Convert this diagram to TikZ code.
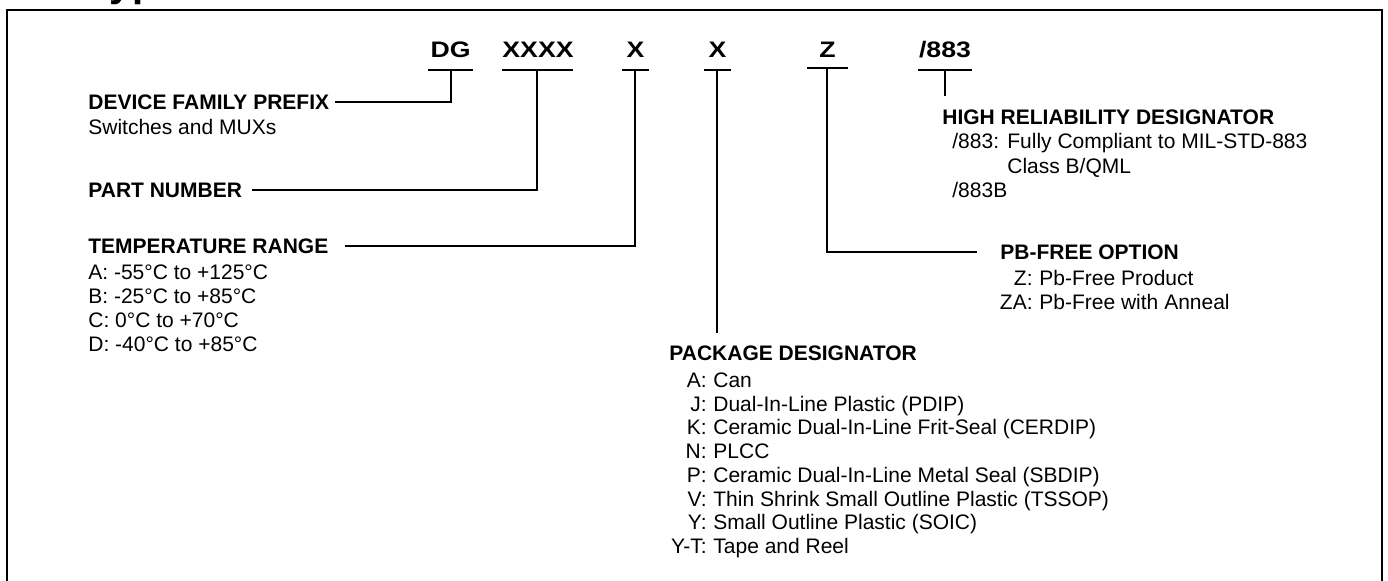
\documentclass[tikz,border=0pt]{standalone}
\usepackage{fontspec}
\setmainfont{Liberation Sans}
\newfontfamily\codefont[FakeStretch=1.19]{Liberation Sans}
\newcommand\bodysz{\fontsize{10.5pt}{12.6pt}\selectfont}
\newcommand\codesz{\fontsize{11.2pt}{13.4pt}\selectfont}
\begin{document}
\begin{tikzpicture}[x=0.5pt,y=-0.5pt,
  hdr/.style={anchor=base west,inner sep=0pt,font=\bodysz\bfseries},
  body/.style={anchor=base west,inner sep=0pt,font=\bodysz},
  lab/.style={anchor=base east,inner sep=0pt,font=\bodysz},
  code/.style={anchor=base,inner sep=0pt,font=\codefont\codesz\bfseries},
  uline/.style={line width=1pt},
  conn/.style={line width=1pt},
  frame/.style={line width=1pt}]
\useasboundingbox (0,0) rectangle (1388,580);
% partially visible heading (cut by page top)
\node[anchor=base west,inner sep=0pt,font=\fontsize{20pt}{24pt}\selectfont\bfseries] (title) at (88,-3.5) {Type};
% frame
\draw[frame] (7,600) -- (7,10) -- (1382,10) -- (1382,600);

% code row
\node[code] (dg) at (450.5,57) {DG};
\node[code] (xxxx) at (538,57) {XXXX};
\node[code] (xa) at (635.5,57) {X};
\node[code] (xb) at (717.5,57) {X};
\node[code] (z) at (827.5,57) {Z};
\node[code] (hr) at (945,57) {/883};

\coordinate (dgL) at (428,70);  \coordinate (dgR) at (473,70);  \coordinate (dgS) at (451,70);
\coordinate (xxL) at (502,70);  \coordinate (xxR) at (573,70);  \coordinate (xxS) at (537,70);
\coordinate (xaL) at (622,70);  \coordinate (xaR) at (649,70);  \coordinate (xaS) at (635,70);
\coordinate (xbL) at (704,70);  \coordinate (xbR) at (731,70);  \coordinate (xbS) at (717,70);
\coordinate (zL) at (807,67.5); \coordinate (zR) at (848,67.5); \coordinate (zS) at (827,67.5);
\coordinate (hrL) at (918,70);  \coordinate (hrR) at (972,70);  \coordinate (hrS) at (945,70);
\foreach \a in {dg,xx,xa,xb,z,hr}{\draw[uline] (\a L) -- (\a R);}

% device family prefix
\node[hdr] (dev) at (88,109) {DEVICE FAMILY PREFIX};
\node[body] (devt) at (88,134) {Switches and MUXs};
\coordinate (devE) at (335,101.5);
\draw[conn] (dgS) |- (devE);

% part number
\node[hdr] (pn) at (88,197) {PART NUMBER};
\coordinate (pnE) at (252,190);
\draw[conn] (xxS) |- (pnE);

% temperature range
\node[hdr] (tr) at (88,253) {TEMPERATURE RANGE};
\coordinate (trE) at (345,246);
\draw[conn] (xaS) |- (trE);
\node[body] (tra) at (88,279.5) {A: -55°C to +125°C};
\node[body] (trb) at (88,303.5) {B: -25°C to +85°C};
\node[body] (trc) at (88,327.5) {C: 0°C to +70°C};
\node[body] (trd) at (88,351.5) {D: -40°C to +85°C};

% package designator
\node[hdr] (pk) at (669,360.5) {PACKAGE DESIGNATOR};
\coordinate (pkT) at (717,333);
\draw[conn] (xbS) -- (pkT);
\foreach \n/\l/\t/\y in {pa/A:/Can/387.5, pj/J:/Dual-In-Line Plastic (PDIP)/411.2,
  pkk/K:/Ceramic Dual-In-Line Frit-Seal (CERDIP)/434.9, pn2/N:/PLCC/458.6,
  pp/P:/Ceramic Dual-In-Line Metal Seal (SBDIP)/482.3,
  pv/V:/Thin Shrink Small Outline Plastic (TSSOP)/506,
  py/Y:/Small Outline Plastic (SOIC)/529.7, pyt/Y-T:/Tape and Reel/553.4}{
  \node[lab] (\n l) at (707,\y) {\l};
  \node[body] (\n t) at (713,\y) {\t};
}

% Pb-free option
\node[hdr] (pb) at (1000,259.5) {PB-FREE OPTION};
\coordinate (pbE) at (977,252);
\draw[conn] (zS) |- (pbE);
\node[lab] (pbzl) at (1033,285.5) {Z:};
\node[body] (pbzt) at (1039,285.5) {Pb-Free Product};
\node[lab] (pbal) at (1033,309.5) {ZA:};
\node[body] (pbat) at (1039,309.5) {Pb-Free with Anneal};

% high reliability designator
\node[hdr] (hrd) at (942,124.5) {HIGH RELIABILITY DESIGNATOR};
\coordinate (hrB) at (945,96);
\draw[conn] (hrS) -- (hrB);
\node[body] (hr1l) at (952,148.5) {/883:};
\node[body] (hr1t) at (1007,148.5) {Fully Compliant to MIL-STD-883};
\node[body] (hr2t) at (1007,173) {Class B/QML};
\node[body] (hr3l) at (952,197.5) {/883B};
\end{tikzpicture}
\end{document}
